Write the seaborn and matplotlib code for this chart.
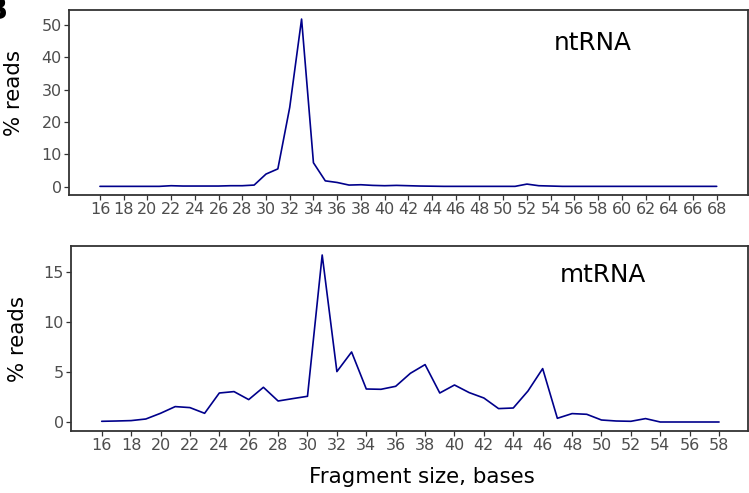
import matplotlib
matplotlib.use("Agg")
import matplotlib.pyplot as plt
import seaborn as sns
import pandas as pd

# ---- data ----
nt_sizes = list(range(16, 69))
nt_pct = [0.1, 0.1, 0.1, 0.1, 0.1, 0.1, 0.3, 0.2, 0.2, 0.2, 0.2, 0.3, 0.3, 0.5,
          3.9, 5.5, 24.5, 51.8, 7.4, 1.8, 1.3, 0.5, 0.6, 0.4, 0.3, 0.4, 0.3, 0.2,
          0.15, 0.1, 0.1, 0.1, 0.1, 0.1, 0.1, 0.1, 0.8, 0.3, 0.2, 0.1, 0.1, 0.1,
          0.1, 0.1, 0.1, 0.1, 0.1, 0.1, 0.1, 0.1, 0.1, 0.1, 0.1]
mt_sizes = list(range(16, 59))
mt_pct = [0.1, 0.13, 0.17, 0.33, 0.9, 1.57, 1.47, 0.9, 2.93, 3.07, 2.27, 3.5,
          2.13, 2.37, 2.6, 16.73, 5.07, 7.03, 3.33, 3.3, 3.6, 4.9, 5.77, 2.93,
          3.73, 2.97, 2.43, 1.37, 1.43, 3.13, 5.37, 0.4, 0.87, 0.8, 0.23, 0.13,
          0.1, 0.37, 0.03, 0.03, 0.03, 0.03, 0.03]
nt_ticks = list(range(16, 69, 2))
mt_ticks = list(range(16, 59, 2))
nt_yticks = [0, 10, 20, 30, 40, 50]
mt_yticks = [0, 5, 10, 15]

sns.set_theme(style="white")
plt.rcParams['font.family'] = ['DejaVu Sans']

fig = plt.figure(figsize=(7.49, 4.93), dpi=100)
ax1 = fig.add_axes([69/749, 1-195/493, 679/749, 185/493])
ax2 = fig.add_axes([71/749, 1-431/493, 677/749, 185/493])

df_nt = pd.DataFrame({"size": nt_sizes, "pct": nt_pct})
df_mt = pd.DataFrame({"size": mt_sizes, "pct": mt_pct})

line_col = "#00008B"
sns.lineplot(data=df_nt, x="size", y="pct", ax=ax1, color=line_col, linewidth=1.2)
sns.lineplot(data=df_mt, x="size", y="pct", ax=ax2, color=line_col, linewidth=1.2)

ax1.set_xlim(13.39, 70.64)
ax1.set_ylim(-2.57, 54.6)
ax2.set_xlim(13.91, 59.97)
ax2.set_ylim(-0.87, 17.63)

ax1.set_xticks(nt_ticks)
ax1.set_yticks(nt_yticks)
ax2.set_xticks(mt_ticks)
ax2.set_yticks(mt_yticks)

for ax in (ax1, ax2):
    for s in ax.spines.values():
        s.set_visible(True)
        s.set_color("#333333")
        s.set_linewidth(1.3)
    ax.tick_params(axis="both", which="major", length=3.3, width=0.9,
                   color="#333333", labelcolor="#4D4D4D", labelsize=11.5,
                   pad=2, bottom=True, left=True)
    ax.set_xlabel("")
    ax.set_ylabel("% reads", fontsize=15.4, color="black")
    ax.grid(False)

ax1.yaxis.set_label_coords(-0.0663, 0.55)
ax2.yaxis.set_label_coords(-0.0636, 0.5)

ax1.text(0.771, 0.822, "ntRNA", transform=ax1.transAxes, fontsize=17.8,
         ha="center", va="center", color="black")
ax2.text(0.786, 0.843, "mtRNA", transform=ax2.transAxes, fontsize=17.8,
         ha="center", va="center", color="black")

fig.text(422/749, 1-477/493, "Fragment size, bases", fontsize=15.4,
         ha="center", va="center", color="black")
fig.text(7/749, 1-19/493, "B", fontsize=22, fontweight="bold",
         ha="right", va="baseline", color="black")

fig.savefig("out.png", dpi=100, facecolor="white")
